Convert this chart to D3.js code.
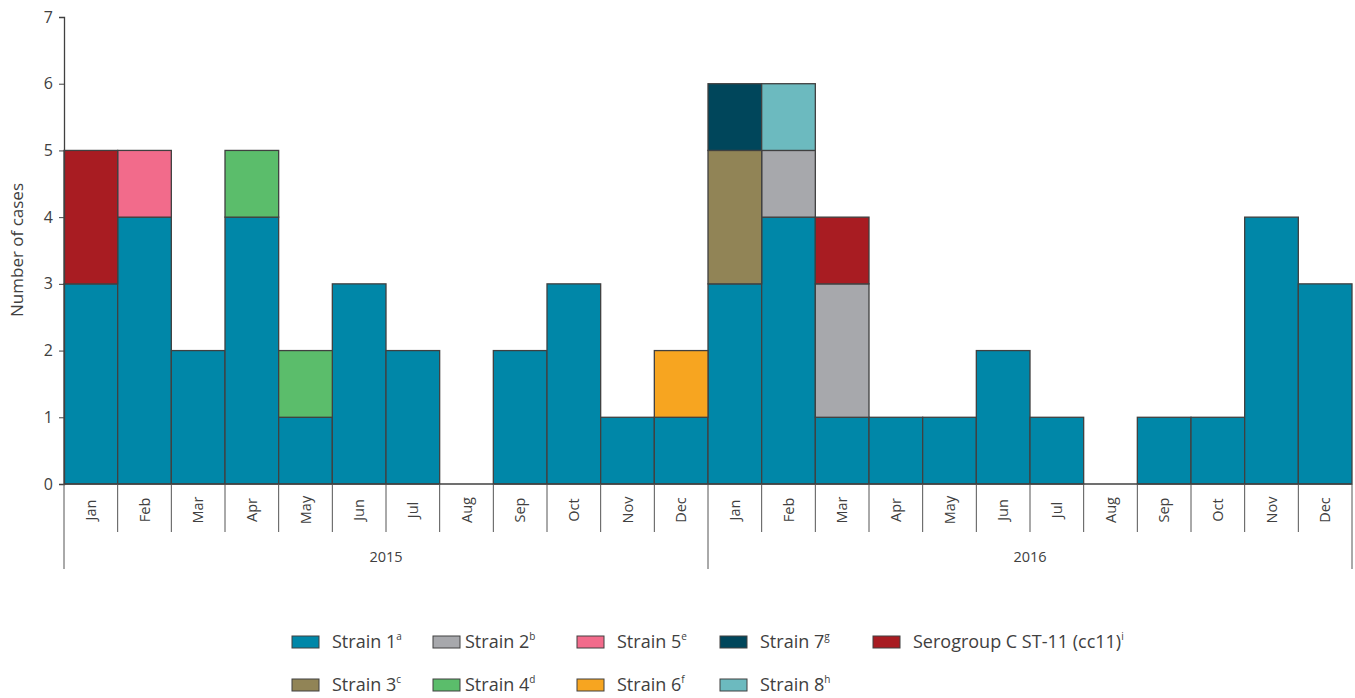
<!DOCTYPE html>
<html>
<head>
<meta charset="utf-8">
<script src="https://cdn.jsdelivr.net/npm/d3@7"></script>
<style>
  body { margin: 0; background: #fff; }
  text { font-family: "Open Sans", "DejaVu Sans", sans-serif; fill: #404040; }
</style>
</head>
<body>
<div id="viz"></div>
<script>
var years = ['2015', '2016'],
    months = ['Jan', 'Feb', 'Mar', 'Apr', 'May', 'Jun', 'Jul', 'Aug', 'Sep', 'Oct', 'Nov', 'Dec'],
    yTicks = [0, 1, 2, 3, 4, 5, 6, 7];

// cases per month, Jan 2015 .. Dec 2016
var strain1 = [3, 4, 2, 4, 1, 3, 2, 0, 2, 3, 1, 1, 3, 4, 1, 1, 1, 2, 1, 0, 1, 1, 4, 3],
    strain2 = [0, 0, 0, 0, 0, 0, 0, 0, 0, 0, 0, 0, 0, 1, 2, 0, 0, 0, 0, 0, 0, 0, 0, 0],
    strain3 = [0, 0, 0, 0, 0, 0, 0, 0, 0, 0, 0, 0, 2, 0, 0, 0, 0, 0, 0, 0, 0, 0, 0, 0],
    strain4 = [0, 0, 0, 1, 1, 0, 0, 0, 0, 0, 0, 0, 0, 0, 0, 0, 0, 0, 0, 0, 0, 0, 0, 0],
    strain5 = [0, 1, 0, 0, 0, 0, 0, 0, 0, 0, 0, 0, 0, 0, 0, 0, 0, 0, 0, 0, 0, 0, 0, 0],
    strain6 = [0, 0, 0, 0, 0, 0, 0, 0, 0, 0, 0, 1, 0, 0, 0, 0, 0, 0, 0, 0, 0, 0, 0, 0],
    strain7 = [0, 0, 0, 0, 0, 0, 0, 0, 0, 0, 0, 0, 1, 0, 0, 0, 0, 0, 0, 0, 0, 0, 0, 0],
    strain8 = [0, 0, 0, 0, 0, 0, 0, 0, 0, 0, 0, 0, 0, 1, 0, 0, 0, 0, 0, 0, 0, 0, 0, 0],
    serogroupC = [2, 0, 0, 0, 0, 0, 0, 0, 0, 0, 0, 0, 0, 0, 1, 0, 0, 0, 0, 0, 0, 0, 0, 0];

var series = [
    { key: 's1', name: 'Strain 1', sup: 'a', color: '#0087a8', values: strain1 },
    { key: 's2', name: 'Strain 2', sup: 'b', color: '#a7a8ac', values: strain2 },
    { key: 's3', name: 'Strain 3', sup: 'c', color: '#918456', values: strain3 },
    { key: 's4', name: 'Strain 4', sup: 'd', color: '#5bbd6b', values: strain4 },
    { key: 's5', name: 'Strain 5', sup: 'e', color: '#f26b8b', values: strain5 },
    { key: 's6', name: 'Strain 6', sup: 'f', color: '#f7a520', values: strain6 },
    { key: 's7', name: 'Strain 7', sup: 'g', color: '#00465b', values: strain7 },
    { key: 's8', name: 'Strain 8', sup: 'h', color: '#6cbabf', values: strain8 },
    { key: 'c', name: 'Serogroup C ST-11 (cc11)', sup: 'i', color: '#a81c22', values: serogroupC }
];

// legend placement: [column, row]
var legendPos = { s1: [0, 0], s2: [1, 0], s5: [2, 0], s7: [3, 0], c: [4, 0],
                  s3: [0, 1], s4: [1, 1], s6: [2, 1], s8: [3, 1] };
var legendCols = [292, 433, 577, 720, 873],
    legendRows = [642, 685];

var width = 1355, height = 698,
    mLeft = 64, mRight = 1352, mTop = 17, mBottom = 484;

var slots = [];
years.forEach(function (yr) {
    months.forEach(function (m) { slots.push(yr + '-' + m); });
});

var rows = slots.map(function (s, i) {
    var r = { slot: s };
    series.forEach(function (d) { r[d.key] = d.values[i]; });
    return r;
});

var x = d3.scaleBand().domain(slots).range([mLeft, mRight]).padding(0),
    y = d3.scaleLinear().domain([0, 7]).range([mBottom, mTop]),
    color = d3.scaleOrdinal().domain(series.map(function (d) { return d.key; }))
        .range(series.map(function (d) { return d.color; }));

var stacked = d3.stack().keys(series.map(function (d) { return d.key; }))(rows);

var svg = d3.select('#viz').append('svg')
    .attr('width', width)
    .attr('height', height);

svg.append('g').selectAll('g')
    .data(stacked)
    .join('g')
    .attr('fill', function (d) { return color(d.key); })
    .selectAll('rect')
    .data(function (d) { return d.filter(function (p) { return p[1] > p[0]; }); })
    .join('rect')
    .attr('x', function (d) { return x(d.data.slot); })
    .attr('y', function (d) { return y(d[1]); })
    .attr('width', x.bandwidth())
    .attr('height', function (d) { return y(d[0]) - y(d[1]); })
    .attr('stroke', '#404040')
    .attr('stroke-width', 1.3);

// y axis
var yAxis = svg.append('g')
    .attr('transform', 'translate(' + mLeft + ',0)')
    .call(d3.axisLeft(y).tickValues(yTicks).tickSize(5).tickFormat(d3.format('d')));
yAxis.select('.domain').attr('stroke', '#404040').attr('stroke-width', 1.3);
yAxis.selectAll('.tick line').attr('stroke', '#404040');
yAxis.selectAll('.tick text').attr('font-size', 16).attr('x', -11)
    .style('font-family', '"Open Sans", sans-serif').attr('fill', '#404040');

svg.append('text')
    .attr('transform', 'translate(23,250) rotate(-90)')
    .attr('text-anchor', 'middle')
    .attr('font-size', 17)
    .text('Number of cases');

// x axis baseline and month separators
var xg = svg.append('g');
xg.append('line')
    .attr('x1', mLeft).attr('x2', mRight)
    .attr('y1', mBottom).attr('y2', mBottom)
    .attr('stroke', '#404040').attr('stroke-width', 1.3);

var bounds = slots.map(function (s) { return x(s); }).concat([mRight]);
xg.selectAll('line.sep')
    .data(bounds)
    .join('line')
    .attr('class', 'sep')
    .attr('x1', function (d) { return d; }).attr('x2', function (d) { return d; })
    .attr('y1', mBottom)
    .attr('y2', function (d, i) { return i % 12 === 0 ? 569 : 532; })
    .attr('stroke', '#555')
    .attr('stroke-width', 1);

xg.selectAll('text.month')
    .data(slots)
    .join('text')
    .attr('class', 'month')
    .attr('transform', function (d) {
        return 'translate(' + (x(d) + x.bandwidth() / 2 + 5) + ',510) rotate(-90)';
    })
    .attr('text-anchor', 'middle')
    .attr('font-size', 14.5)
    .text(function (d) { return d.split('-')[1]; });

xg.selectAll('text.year')
    .data(years)
    .join('text')
    .attr('class', 'year')
    .attr('x', function (d) {
        return (x(d + '-Jan') + x(d + '-Dec') + x.bandwidth()) / 2;
    })
    .attr('y', 562)
    .attr('text-anchor', 'middle')
    .attr('font-size', 14.5)
    .text(function (d) { return d; });

// legend
var legend = svg.append('g').selectAll('g')
    .data(series)
    .join('g')
    .attr('transform', function (d) {
        var p = legendPos[d.key];
        return 'translate(' + legendCols[p[0]] + ',' + legendRows[p[1]] + ')';
    });

legend.append('rect')
    .attr('x', 0).attr('y', -6)
    .attr('width', 27).attr('height', 12)
    .attr('fill', function (d) { return d.color; })
    .attr('stroke', '#404040')
    .attr('stroke-width', 1);

var lt = legend.append('text')
    .attr('x', function (d) { return d.key === 's2' || d.key === 's4' ? 32 : 40; })
    .attr('y', 6)
    .attr('font-size', 18);
lt.append('tspan').text(function (d) { return d.name; });
lt.append('tspan')
    .attr('font-size', 10)
    .attr('dy', -8)
    .text(function (d) { return d.sup; });
</script>
</body>
</html>
